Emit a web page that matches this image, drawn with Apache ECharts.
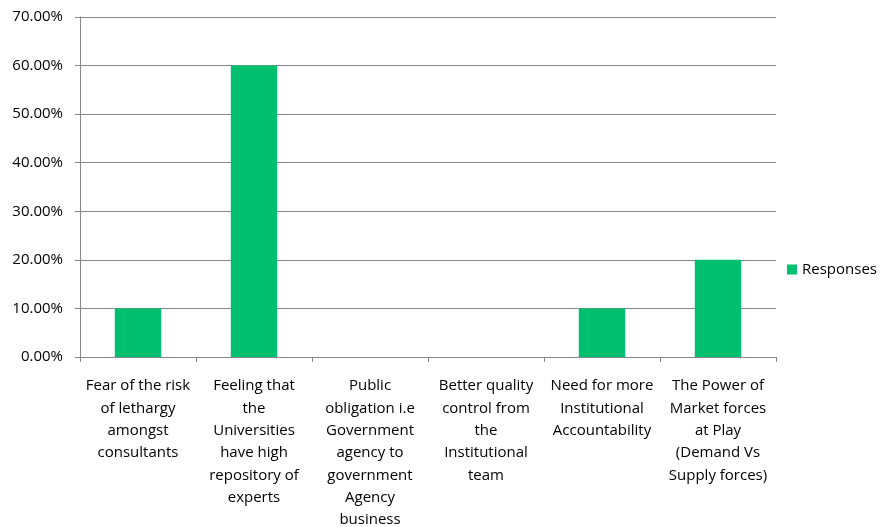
<!DOCTYPE html>
<html>
<head>
<meta charset="utf-8">
<script src="https://cdn.jsdelivr.net/npm/echarts@6/dist/echarts.min.js"></script>
<style>
  html, body { margin: 0; padding: 0; background: #fff; }
  #chart { width: 890px; height: 527px; }
</style>
</head>
<body>
<div id="chart"></div>
<script>
// Category labels, wrapped the way they appear under each bar
const categories = [
  'Fear of the risk\nof lethargy\namongst\nconsultants',
  'Feeling that\nthe\nUniversities\nhave high\nrepository of\nexperts',
  'Public\nobligation i.e\nGovernment\nagency to\ngovernment\nAgency\nbusiness',
  'Better quality\ncontrol from\nthe\nInstitutional\nteam',
  'Need for more\nInstitutional\nAccountability',
  'The Power of\nMarket forces\nat Play\n(Demand Vs\nSupply forces)'
];
// Share of responses per reason (fraction)
const responses = [0.10, 0.60, 0, 0, 0.10, 0.20];
const seriesName = 'Responses';

const FONT = '"Open Sans", "Noto Sans", sans-serif';
const chart = echarts.init(document.getElementById('chart'));
chart.setOption({
  animation: false,
  backgroundColor: '#ffffff',
  textStyle: { fontFamily: FONT },
  grid: {
    left: 80, right: 114, top: 17, bottom: 170,
    containLabel: false,
    outerBoundsMode: 'none'
  },
  legend: {
    data: [seriesName],
    left: 787,
    top: 262,
    padding: 0,
    itemWidth: 10,
    itemHeight: 10,
    itemGap: 5,
    icon: 'rect',
    textStyle: { fontFamily: FONT, fontSize: 15, color: '#000' }
  },
  xAxis: {
    type: 'category',
    data: categories,
    axisLine: { lineStyle: { color: '#868686', width: 1 } },
    axisTick: { show: true, length: 5, alignWithLabel: false, lineStyle: { color: '#868686' } },
    axisLabel: {
      interval: 0,
      margin: 18,
      fontFamily: FONT,
      fontSize: 15,
      lineHeight: 22.3,
      color: '#000',
      align: 'center'
    },
    splitLine: { show: false }
  },
  yAxis: {
    type: 'value',
    min: 0,
    max: 0.7,
    interval: 0.1,
    axisLine: { show: true, lineStyle: { color: '#868686', width: 1 } },
    axisTick: { show: true, length: 5, lineStyle: { color: '#868686' } },
    axisLabel: {
      margin: 17,
      fontFamily: FONT,
      fontSize: 15,
      color: '#000',
      formatter: v => (v * 100).toFixed(2) + '%'
    },
    splitLine: { show: true, lineStyle: { color: '#868686', width: 1 } }
  },
  series: [{
    name: seriesName,
    type: 'bar',
    data: responses,
    barCategoryGap: '60%',
    itemStyle: { color: '#00BF6F' }
  }]
});
</script>
</body>
</html>
